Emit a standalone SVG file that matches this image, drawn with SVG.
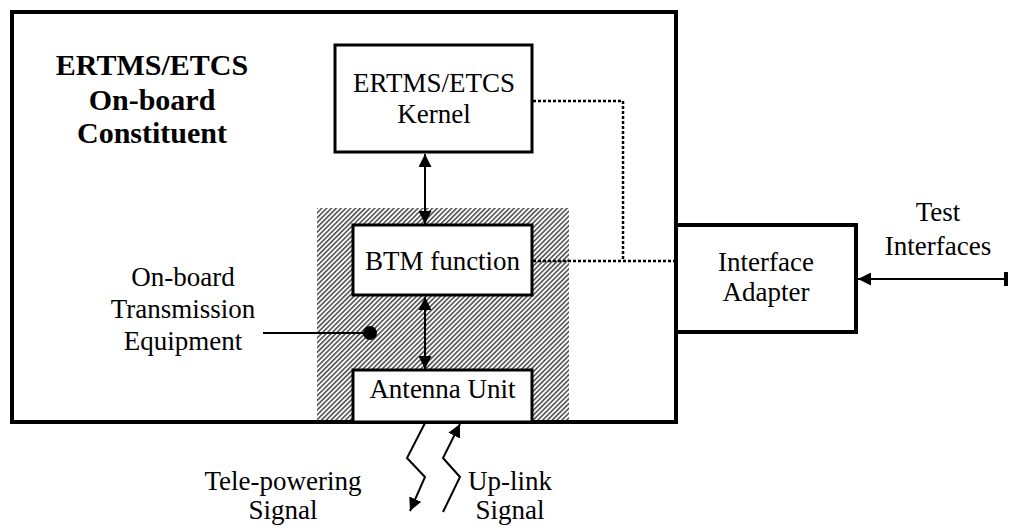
<svg xmlns="http://www.w3.org/2000/svg" width="1009" height="531" viewBox="0 0 1009 531">
<style>
text{font-family:"Liberation Serif","Times New Roman",serif;font-size:27px;fill:#000;text-anchor:middle}
.title{font-weight:bold;font-size:30px}
.box{fill:#fff;stroke:#000;stroke-width:3}
.outer{fill:#fff;stroke:#000;stroke-width:4}
.ln{fill:none;stroke:#000;stroke-width:2}
.dot{fill:none;stroke:#000;stroke-width:2.5;stroke-dasharray:3 2}
</style>
<defs>
<pattern id="hatch" width="3.4" height="3.4" patternUnits="userSpaceOnUse" patternTransform="rotate(45)">
<rect width="3.4" height="3.4" fill="#fff"/>
<line x1="0.8" y1="0" x2="0.8" y2="3.4" stroke="#2a2a2a" stroke-width="1.3"/>
</pattern>
<marker id="ah" markerWidth="13" markerHeight="13" refX="13" refY="6.5" orient="auto-start-reverse" markerUnits="userSpaceOnUse" viewBox="0 0 13 13">
<path d="M0,0 L13,6.5 L0,13 z" fill="#000"/>
</marker>
<marker id="bar" markerWidth="4" markerHeight="14" refX="2" refY="7" orient="auto" markerUnits="userSpaceOnUse" viewBox="0 0 4 14">
<rect x="0" y="0" width="4" height="14" fill="#000"/>
</marker>
</defs>
<g id="onboard-constituent">
<rect class="outer" x="12" y="12" width="664" height="410"/>
<text class="title" x="152" y="75">ERTMS/ETCS</text>
<text class="title" x="152" y="110">On-board</text>
<text class="title" x="152" y="143">Constituent</text>
</g>
<g id="transmission-equipment">
<rect x="317" y="208" width="252" height="212" fill="url(#hatch)"/>
<text x="183" y="286">On-board</text>
<text x="183" y="318">Transmission</text>
<text x="183" y="350">Equipment</text>
</g>
<g id="kernel">
<rect class="box" x="335" y="45" width="197" height="107"/>
<text x="434" y="92">ERTMS/ETCS</text>
<text x="434" y="123">Kernel</text>
</g>
<g id="btm">
<rect class="box" x="353" y="225" width="179" height="70"/>
<text x="442.5" y="270">BTM function</text>
</g>
<g id="antenna">
<rect class="box" x="353" y="370" width="179" height="52"/>
<text x="442.5" y="398">Antenna Unit</text>
</g>
<g id="interface-adapter">
<rect class="outer" x="676" y="225" width="180" height="107"/>
<text x="766" y="271">Interface</text>
<text x="766" y="301">Adapter</text>
</g>
<g id="test-interfaces">
<text x="938" y="221">Test</text>
<text x="938" y="255">Interfaces</text>
</g>
<g id="signals">
<text x="283" y="490">Tele-powering</text>
<text x="283" y="519">Signal</text>
<text x="510" y="490">Up-link</text>
<text x="510" y="519">Signal</text>
</g>
<g id="connectors">
<line class="ln" x1="425" y1="154" x2="425" y2="224" marker-start="url(#ah)" marker-end="url(#ah)"/>
<line class="ln" x1="425" y1="297" x2="425" y2="369" marker-start="url(#ah)" marker-end="url(#ah)"/>
<polyline class="dot" points="533,101 623,101 623,261"/>
<line class="dot" x1="533" y1="261" x2="674" y2="261"/>
<line class="ln" x1="263" y1="333" x2="370" y2="333"/>
<circle cx="370" cy="333" r="7" fill="#000"/>
<line class="ln" x1="858" y1="279" x2="1006" y2="279" marker-start="url(#ah)" marker-end="url(#bar)"/>
<polyline class="ln" points="425,423 407,458 425,477 410,511" marker-end="url(#ah)"/>
<polyline class="ln" points="443,512 460,477 443,458 460,424" marker-end="url(#ah)"/>
</g>
</svg>
